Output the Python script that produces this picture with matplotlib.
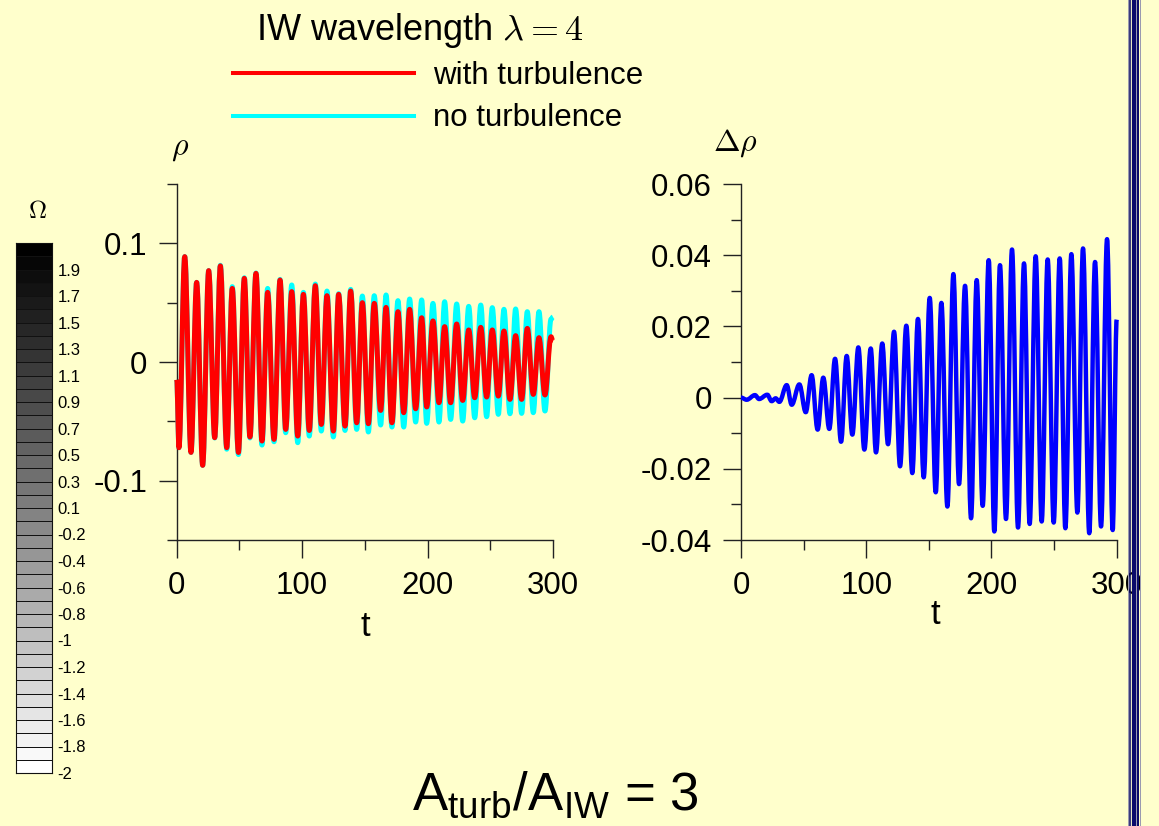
import numpy as np
import matplotlib
matplotlib.use('Agg')
import matplotlib.pyplot as plt
from matplotlib.lines import Line2D
from matplotlib.path import Path
from matplotlib.patches import PathPatch
from matplotlib.ticker import FixedLocator, FixedFormatter

plt.rcParams['font.family'] = ['Liberation Sans', 'DejaVu Sans']
plt.rcParams['mathtext.fontset'] = 'cm'
plt.rcParams['mathtext.rm'] = 'Liberation Sans'
plt.rcParams['mathtext.it'] = 'Liberation Sans:italic'
plt.rcParams['mathtext.bf'] = 'Liberation Sans:bold'
plt.rcParams['axes.unicode_minus'] = False

# ---------------- data (extrema) ----------------
t_rho = [0, 1.8, 6.4, 11.4, 15.9, 20.7, 25.5, 30.3, 34.8, 39.9,
         44.3, 49.2, 53.9, 58.4, 63.2, 68.0, 72.5, 77.6, 82.4, 86.9,
         91.7, 96.5, 101.0, 105.7, 110.5, 115.3, 119.8, 124.9, 129.1, 134.2,
         138.7, 143.5, 148.0, 152.8, 157.5, 162.6, 166.9, 171.6, 176.4, 181.0,
         185.7, 190.5, 195.3, 199.3, 204.3, 209.1, 213.6, 218.4, 223.2, 228.0,
         232.8, 237.6, 242.4, 247.1, 251.6, 256.4, 260.9, 265.7, 270.2, 275.0,
         279.5, 284.3, 288.8, 293.6, 298.4, 300.0]

rho_turb = [-0.015, -0.0722, 0.0888, -0.0762, 0.0671, -0.0871, 0.077, -0.0638, 0.081, -0.0722,
            0.062, -0.0762, 0.0705, -0.0632, 0.0747, -0.0666, 0.0587, -0.0652, 0.0691, -0.0568,
            0.0593, -0.0624, 0.057, -0.0577, 0.0643, -0.0526, 0.0559, -0.0582, 0.057, -0.054,
            0.0598, -0.0512, 0.050, -0.052, 0.0494, -0.0408, 0.046, -0.0512, 0.0424, -0.0427,
            0.0444, -0.0394, 0.0373, -0.0379, 0.0346, -0.0343, 0.0298, -0.0343, 0.032, -0.0324,
            0.027, -0.0301, 0.0292, -0.0295, 0.027, -0.0287, 0.0261, -0.0315, 0.0222, -0.0315,
            0.0283, -0.0273, 0.0205, -0.0278, 0.0213, 0.0174]

rho_noturb = [-0.015, -0.0722, 0.0888, -0.0762, 0.0671, -0.0871, 0.077, -0.064, 0.0815, -0.0735,
              0.0635, -0.078, 0.071, -0.064, 0.075, -0.070, 0.062, -0.0672, 0.0696, -0.0596,
              0.0649, -0.068, 0.0587, -0.0624, 0.0657, -0.0582, 0.0598, -0.0632, 0.0576, -0.0577,
              0.0612, -0.0568, 0.0556, -0.059, 0.0559, -0.0531, 0.0565, -0.0548, 0.0517, -0.0548,
              0.0531, -0.0506, 0.0523, -0.0517, 0.0494, -0.0506, 0.0508, -0.0484, 0.0489, -0.0498,
              0.0469, -0.047, 0.048, -0.0461, 0.0458, -0.0441, 0.0444, -0.0436, 0.0447, -0.0433,
              0.0424, -0.0427, 0.0424, -0.0413, 0.0360, 0.038]

t_drho = [0, 4.5, 11.2, 14.4, 21.0, 24.5, 27.7, 30.6, 36.5, 40.5,
          46.6, 51.7, 56.4, 61.2, 65.7, 70.5, 75.1, 79.9, 84.4, 88.9,
          93.7, 98.5, 103.6, 107.8, 112.8, 117.4, 122.2, 127.0, 132.0, 136.8,
          141.3, 145.9, 150.7, 155.5, 160.0, 164.8, 169.6, 174.1, 178.9, 183.7,
          188.2, 193.0, 197.8, 202.3, 206.8, 211.6, 216.4, 221.2, 226.0, 230.5,
          235.3, 240.1, 244.9, 249.7, 254.5, 259.0, 263.8, 268.6, 273.1, 278.1,
          282.7, 287.5, 292.3, 296.8, 300.0]

drho = [0.0, -0.0006, 0.0007, -0.0004, 0.0008, -0.001, -0.0002, -0.0012, 0.0035, -0.002,
        0.0037, -0.0041, 0.0063, -0.009, 0.0056, -0.0088, 0.0109, -0.0124, 0.0117, -0.0104,
        0.0141, -0.0146, 0.0138, -0.0154, 0.0152, -0.0131, 0.0185, -0.0193, 0.0202, -0.0212,
        0.0221, -0.0224, 0.028, -0.0266, 0.0266, -0.0306, 0.0347, -0.0243, 0.0314, -0.0339,
        0.033, -0.0304, 0.0386, -0.0376, 0.0372, -0.0341, 0.0416, -0.0365, 0.0377, -0.0355,
        0.0397, -0.0348, 0.0388, -0.0351, 0.0391, -0.0367, 0.0403, -0.0323, 0.0419, -0.0381,
        0.0381, -0.0362, 0.0445, -0.0372, 0.0219]

t_ticks = [0, 100, 200, 300]
t_ticklabels = ['0', '100', '200', '300']
t_minor = [50, 150, 250]
rho_ticks = [-0.1, 0.0, 0.1]
rho_ticklabels = ['-0.1', '0', '0.1']
rho_minor = [-0.15, -0.05, 0.05, 0.15]
drho_ticks = [-0.04, -0.02, 0.0, 0.02, 0.04, 0.06]
drho_ticklabels = ['-0.04', '-0.02', '0', '0.02', '0.04', '0.06']
drho_minor = [-0.03, -0.01, 0.01, 0.03, 0.05]

omega_levels = list(range(40))
omega_ticklabels = ['-2', '-1.8', '-1.6', '-1.4', '-1.2', '-1', '-0.8', '-0.6', '-0.4', '-0.2',
                    '0.1', '0.3', '0.5', '0.7', '0.9', '1.1', '1.3', '1.5', '1.7', '1.9']

legend_labels = ['with turbulence', 'no turbulence']

# ---------------- figure ----------------
W, H = 1159, 826
BG = '#FFFFCC'
fig = plt.figure(figsize=(W / 100, H / 100), dpi=100, facecolor=BG)


def fx(px):
    return px / W


def fy(py):
    return 1 - py / H


def smooth_curve(ax, t, v, color, lw, z):
    """Draw a smooth curve through the extrema (horizontal tangents at each)."""
    k = 1 - 2 / np.pi
    verts = [(t[0], v[0])]
    codes = [Path.MOVETO]
    for i in range(len(t) - 1):
        dt = t[i + 1] - t[i]
        verts += [(t[i] + k * dt, v[i]), (t[i + 1] - k * dt, v[i + 1]), (t[i + 1], v[i + 1])]
        codes += [Path.CURVE4] * 3
    patch = PathPatch(Path(verts, codes), facecolor='none', edgecolor=color, lw=lw,
                      joinstyle='round', capstyle='butt', clip_on=False, zorder=z)
    ax.add_patch(patch)
    return patch


def style_axes(ax, yt, ytl, ym):
    ax.set_facecolor('none')
    for s in ('top', 'right'):
        ax.spines[s].set_visible(False)
    for s in ('left', 'bottom'):
        ax.spines[s].set_color('#222222')
        ax.spines[s].set_linewidth(1.0)
    ax.xaxis.set_major_locator(FixedLocator(t_ticks))
    ax.xaxis.set_major_formatter(FixedFormatter(t_ticklabels))
    ax.xaxis.set_minor_locator(FixedLocator(t_minor))
    ax.yaxis.set_major_locator(FixedLocator(yt))
    ax.yaxis.set_major_formatter(FixedFormatter(ytl))
    ax.yaxis.set_minor_locator(FixedLocator(ym))
    ax.tick_params(which='major', direction='out', length=13, width=1.0,
                   color='#222222', labelsize=22.5)
    ax.tick_params(axis='x', which='major', pad=9)
    ax.tick_params(axis='y', which='major', pad=8)
    ax.tick_params(which='minor', direction='out', length=7.5, width=1.0,
                   color='#222222')


# left axes: rho
ax1 = fig.add_axes([fx(176.7), fy(540), fx(553) - fx(176.7), fy(184) - fy(540)])
smooth_curve(ax1, t_rho, rho_noturb, '#00FFFF', 3.6, 2)
smooth_curve(ax1, t_rho, rho_turb, '#FF0000', 3.6, 3)
ax1.set_xlim(0, 300)
ax1.set_ylim(-0.15, 0.15)
style_axes(ax1, rho_ticks, rho_ticklabels, rho_minor)

# right axes: delta rho
ax2 = fig.add_axes([fx(741), fy(540), fx(1116.7) - fx(741), fy(184) - fy(540)])
smooth_curve(ax2, t_drho, drho, '#0000FF', 3.2, 3)
ax2.set_xlim(0, 300)
ax2.set_ylim(-0.04, 0.06)
style_axes(ax2, drho_ticks, drho_ticklabels, drho_minor)

# axis labels
fig.text(fx(365), fy(627), 't', ha='center', va='center', fontsize=25)
fig.text(fx(935), fy(614), 't', ha='center', va='center', fontsize=25)
fig.text(fx(180), fy(148), r'$\rho$', ha='center', va='center', fontsize=23)
fig.text(fx(735), fy(143), r'$\Delta\rho$', ha='center', va='center', fontsize=23)

# title + legend
fig.text(fx(420), fy(30), r'IW wavelength $\lambda=4$', ha='center', va='center',
         fontsize=26)
fig.legend(handles=[Line2D([], [], color='#FF0000', lw=2.9),
                    Line2D([], [], color='#00FFFF', lw=2.9)],
           labels=legend_labels, loc='upper left',
           bbox_to_anchor=(fx(233), fy(61)), frameon=False, fontsize=22.5,
           handlelength=5.8, handletextpad=0.6, labelspacing=0.4,
           borderpad=0, borderaxespad=0)

# colour bar (Omega)
cax = fig.add_axes([fx(16), fy(773), fx(52) - fx(16), fy(243) - fy(773)])
cax.pcolormesh([0, 1], np.arange(len(omega_levels) + 1),
               np.array(omega_levels).reshape(-1, 1), cmap='gray_r',
               vmin=0, vmax=len(omega_levels) - 1, edgecolors='#111111', linewidth=0.7)
cax.set_xlim(0, 1)
cax.set_ylim(0, len(omega_levels))
cax.set_xticks([])
cax.yaxis.tick_right()
cax.set_yticks(list(range(0, len(omega_levels), 2)))
cax.set_yticklabels(omega_ticklabels)
cax.tick_params(axis='y', length=0, labelsize=12, pad=4)
for s in cax.spines.values():
    s.set_color('#111111')
    s.set_linewidth(0.8)
fig.text(fx(37), fy(211), r'$\Omega$', ha='center', va='center', fontsize=18)

# bottom annotation
fig.text(fx(555), fy(795), r'A$_{\mathrm{turb}}$/A$_{\mathrm{IW}}$ = 3', ha='center', va='center',
         fontsize=38, math_fontfamily='custom')

# slide border lines at right edge
for xp, wpx, col in [(1128.0, 1.0, '#9a9ab0'), (1129.5, 1.6, '#0B0B6B'),
                     (1133.7, 4.2, '#0B0B6B'), (1136.4, 1.0, '#9a9ab0'),
                     (1138.0, 2.0, '#0B0B6B'), (1139.5, 1.0, '#9a9ab0')]:
    fig.add_artist(Line2D([fx(xp), fx(xp)], [0, 1], transform=fig.transFigure,
                          color=col, lw=wpx * 0.72, zorder=20))

fig.savefig('out.png', dpi=100, facecolor=BG)
